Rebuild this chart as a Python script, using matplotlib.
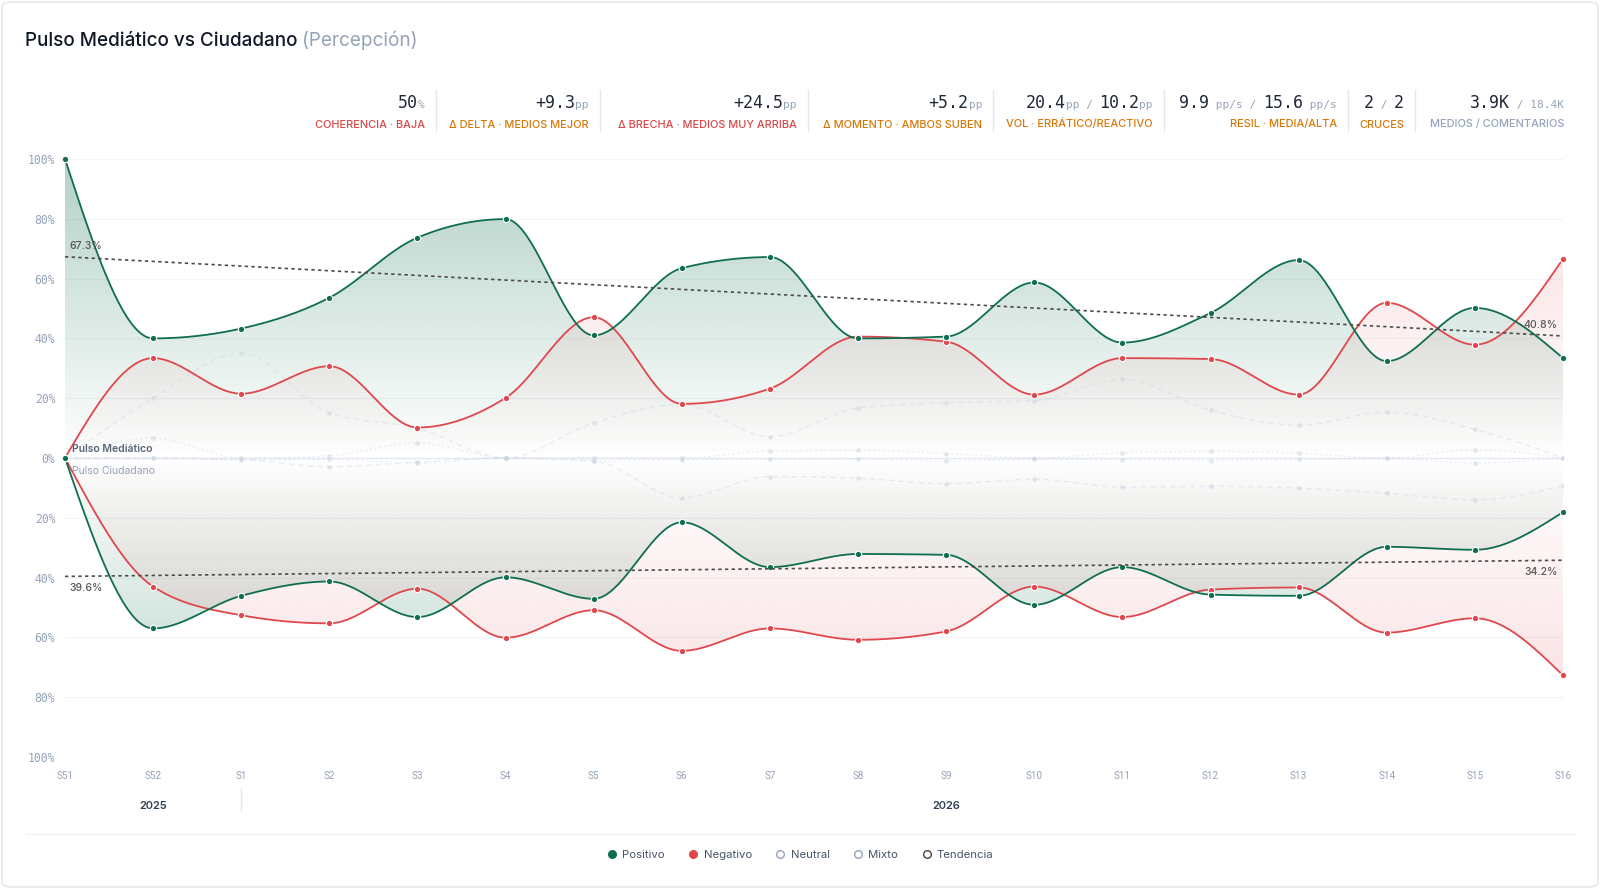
import numpy as np
import matplotlib
matplotlib.use("Agg")
import matplotlib.pyplot as plt
from matplotlib.lines import Line2D
from matplotlib.path import Path
from matplotlib.patches import FancyBboxPatch
import matplotlib.colors as mcolors
import matplotlib.transforms as mtransforms

# --- datos ---
weeks = ["S51", "S52", "S1", "S2", "S3", "S4", "S5", "S6", "S7", "S8",
         "S9", "S10", "S11", "S12", "S13", "S14", "S15", "S16"]

# Pulso Mediático (arriba)
med_pos = [100, 40, 43.3, 53.6, 73.7, 79.9, 41, 63.5, 67.2, 40, 40.6, 58.7, 38.6, 48.5, 66.2, 32.4, 50.2, 33.4]
med_neg = [0, 33.4, 21.5, 30.7, 10.2, 20.1, 47.1, 18.1, 23.2, 40.6, 38.9, 21.2, 33.4, 33.1, 21.2, 51.9, 37.9, 66.6]
med_neu = [0, 20, 35, 15, 10, 0, 11.7, 18, 7.1, 16.7, 18.5, 19.2, 26.3, 16, 10.9, 15.3, 9.6, 0]
med_mix = [0, 6.7, 0, 0.7, 5.1, 0, 0, 0, 2.3, 2.6, 1.5, 0, 1.7, 2.2, 1.6, 0, 2.8, 0]

# Pulso Ciudadano (abajo)
ciu_pos = [0, 57, 46.1, 41.3, 53.2, 39.9, 47.1, 21.5, 36.5, 32.1, 32.4, 49.1, 36.5, 45.7, 46.1, 29.7, 30.7, 18.1]
ciu_neg = [0, 43, 52.6, 55.3, 43.7, 60.1, 50.9, 64.5, 57, 60.8, 58, 43, 53.2, 44, 43.3, 58.4, 53.6, 72.7]
ciu_neu = [0, 0, 0.5, 2.9, 1.4, 0, 1, 13.4, 6.2, 6.8, 8.6, 7.1, 9.7, 9.4, 10.1, 11.8, 14, 9.3]
ciu_mix = [0, 0, 0.8, 0.5, 1.7, 0, 1, 0.6, 0.5, 0.3, 1, 0.5, 0.6, 0.9, 0.5, 0.1, 1.7, 0]

trend_med = [67.3, 40.8]
trend_ciu = [39.6, 34.2]

year_labels = ["2025", "2026"]
year_label_weeks = ["S52", "S9"]
year_break_week = "S1"

GREEN = "#0f6e4f"
RED = "#e0474c"
FAINT = "#cbd5e1"
GRAY = "#94a3b8"
TREND = "#4b4b4b"
ORANGE = "#d97706"
RED_LBL = "#dc4848"

SANS = ["Inter", "DejaVu Sans"]
MONO = ["DejaVu Sans Mono"]


def monotone(xs, ys, n=40):
    # curva monotona tipo d3.curveMonotoneX
    x = np.asarray(xs, float)
    y = np.asarray(ys, float)
    h = np.diff(x)
    s = np.diff(y) / h
    m = np.zeros_like(y)
    for i in range(1, len(y) - 1):
        h0, h1 = h[i - 1], h[i]
        s0, s1 = s[i - 1], s[i]
        p = (s0 * h1 + s1 * h0) / (h0 + h1)
        m[i] = (np.sign(s0) + np.sign(s1)) * min(abs(s0), abs(s1), 0.5 * abs(p))
    m[0] = (3 * s[0] - m[1]) / 2
    m[-1] = (3 * s[-1] - m[-2]) / 2
    xo, yo = [], []
    for i in range(len(y) - 1):
        t = np.linspace(0, 1, n, endpoint=(i == len(y) - 2))
        h00 = 2 * t**3 - 3 * t**2 + 1
        h10 = t**3 - 2 * t**2 + t
        h01 = -2 * t**3 + 3 * t**2
        h11 = t**3 - t**2
        xo.append(x[i] + t * h[i])
        yo.append(h00 * y[i] + h10 * h[i] * m[i] + h01 * y[i + 1] + h11 * h[i] * m[i + 1])
    return np.concatenate(xo), np.concatenate(yo)


def grad_fill(ax, xs, ys, color, amax):
    poly = ax.fill_between(xs, 0, ys, facecolor="none", edgecolor="none")
    path = Path.make_compound_path(*poly.get_paths())
    poly.remove()
    nrow = 400
    yy = np.linspace(-100, 100, nrow)
    img = np.zeros((nrow, 2, 4))
    img[..., :3] = mcolors.to_rgb(color)
    img[..., 3] = (amax * np.abs(yy) / 100)[:, None]
    im = ax.imshow(img, extent=[0, len(weeks) - 1, -100, 100], origin="lower",
                   aspect="auto", zorder=1, interpolation="bilinear")
    im.set_clip_path(path, transform=ax.transData)


fig = plt.figure(figsize=(16, 8.89), dpi=100)
W, H = 1600, 889


def fx(x):
    return x / W


def fy(y):
    return 1 - y / H


# tarjeta
fig.patches.append(FancyBboxPatch((fx(2), fy(887)), fx(1596), 885 / H,
                                  boxstyle="round,pad=0,rounding_size=0.006",
                                  transform=fig.transFigure, fc="white", ec="#e5e7eb", lw=1.2, zorder=-5))

ax = fig.add_axes([fx(65), fy(757), (1563 - 65) / W, (757 - 159) / H])
ax.patch.set_alpha(0)
x = np.arange(len(weeks))

for v in range(-100, 101, 20):
    if v != 0:
        ax.axhline(v, color="#f1f5f9", lw=0.8, zorder=0)
ax.axhline(0, color="#e2e8f0", lw=1.0, zorder=2)

series = [(med_pos, med_neg, med_neu, med_mix, 1), (ciu_pos, ciu_neg, ciu_neu, ciu_mix, -1)]
for pos, neg, neu, mix, sgn in series:
    pos = sgn * np.array(pos)
    neg = sgn * np.array(neg)
    neu = sgn * np.array(neu)
    mix = sgn * np.array(mix)
    xs, yp = monotone(x, pos)
    _, yn = monotone(x, neg)
    _, yu = monotone(x, neu)
    _, ym = monotone(x, mix)
    grad_fill(ax, xs, yp, GREEN, 0.32)
    grad_fill(ax, xs, yn, RED, 0.2)
    ax.plot(xs, yu, color=FAINT, lw=1, ls=(0, (4, 3)), alpha=0.4, zorder=2)
    ax.plot(x, neu, "o", color=FAINT, ms=2.5, alpha=0.4, zorder=2)
    ax.plot(xs, ym, color=FAINT, lw=1, ls=(0, (1.5, 2)), alpha=0.4, zorder=2)
    ax.plot(x, mix, "o", color=FAINT, ms=2.5, alpha=0.4, zorder=2)
    ax.plot(xs, yn, color=RED, lw=1.3, zorder=4)
    ax.plot(xs, yp, color=GREEN, lw=1.3, zorder=5)
    ax.plot(x, neg, "o", mfc=RED, mec="white", mew=0.8, ms=4.6, zorder=6, clip_on=False)
    ax.plot(x, pos, "o", mfc=GREEN, mec="white", mew=0.8, ms=4.6, zorder=7, clip_on=False)

# tendencias
ax.plot([0, len(weeks) - 1], trend_med, color=TREND, lw=1.2, ls=(0, (2, 2)), zorder=8)
ax.plot([0, len(weeks) - 1], [-v for v in trend_ciu], color=TREND, lw=1.2, ls=(0, (2, 2)), zorder=8)
tk = dict(fontsize=7.5, color="#555555", family=SANS, weight="medium", zorder=9)
ax.annotate(f"{trend_med[0]}%", (0, trend_med[0]), xytext=(3, 4), textcoords="offset points", ha="left", va="bottom", **tk)
ax.annotate(f"{trend_med[1]}%", (len(weeks) - 1, trend_med[1]), xytext=(-4, 4), textcoords="offset points", ha="right", va="bottom", **tk)
ax.annotate(f"{trend_ciu[0]}%", (0, -trend_ciu[0]), xytext=(3, -5), textcoords="offset points", ha="left", va="top", **tk)
ax.annotate(f"{trend_ciu[1]}%", (len(weeks) - 1, -trend_ciu[1]), xytext=(-4, -5), textcoords="offset points", ha="right", va="top", **tk)

ax.annotate("Pulso Mediático", (0, 0), xytext=(5, 3), textcoords="offset points", ha="left", va="bottom",
            fontsize=7.5, color="#5b6478", family=SANS, weight="semibold", zorder=9)
ax.annotate("Pulso Ciudadano", (0, 0), xytext=(5, -5.5), textcoords="offset points", ha="left", va="top",
            fontsize=7.5, color=GRAY, family=SANS, zorder=9)

ax.set_xlim(0, len(weeks) - 1)
ax.set_ylim(-100, 100)
for sp in ax.spines.values():
    sp.set_visible(False)
ax.set_yticks(range(-100, 101, 20))
ax.set_yticklabels([f"{abs(v)}%" for v in range(-100, 101, 20)], family=MONO, fontsize=8.3, color=GRAY)
ax.set_xticks(x)
ax.set_xticklabels(weeks, family=["Roboto", "DejaVu Sans"], fontsize=7.2, color=GRAY)
ax.tick_params(axis="y", length=0, pad=7)
ax.tick_params(axis="x", length=0, pad=10)

# años
blend = mtransforms.blended_transform_factory(ax.transData, fig.transFigure)
for lab, wk in zip(year_labels, year_label_weeks):
    xi = weeks.index(wk)
    ax.text(xi, fy(806), lab, transform=blend, ha="center", va="center",
            fontsize=8, color="#334155", family=SANS, weight="semibold")
xb = weeks.index(year_break_week)
ax.plot([xb, xb], [fy(788), fy(811)], transform=blend, color="#e5e7eb", lw=1, clip_on=False)

# separador y leyenda
fig.add_artist(Line2D([fx(26), fx(1574)], [fy(834), fy(834)], color="#eef0f3", lw=1))
handles = [
    Line2D([], [], marker="o", ls="none", mfc=GREEN, mec=GREEN, ms=5.5),
    Line2D([], [], marker="o", ls="none", mfc=RED, mec=RED, ms=5.5),
    Line2D([], [], marker="o", ls="none", mfc="white", mec=GRAY, ms=5.5, mew=1),
    Line2D([], [], marker="o", ls="none", mfc="white", mec=GRAY, ms=5.5, mew=1),
    Line2D([], [], marker="o", ls="none", mfc="white", mec="#444444", ms=5.5, mew=1),
]
leg = fig.legend(handles, ["Positivo", "Negativo", "Neutral", "Mixto", "Tendencia"], loc="center",
                 bbox_to_anchor=(0.5, fy(855)), ncol=5, frameon=False, handletextpad=0.4,
                 columnspacing=2.0, handlelength=1.0, prop={"family": SANS, "size": 8.2})
for t in leg.get_texts():
    t.set_color("#475569")

# titulo y KPIs
renderer = fig.canvas.get_renderer()


def runs(xpos, y, items, align="right"):
    seq = list(reversed(items)) if align == "right" else items
    xc = xpos
    for txt, kw in seq:
        t = fig.text(fx(xc), fy(y), txt, ha=align, va="baseline", **kw)
        w = t.get_window_extent(renderer).width
        xc = xc - w if align == "right" else xc + w


runs(25, 46, [("Pulso Mediático vs Ciudadano ", dict(fontsize=13.6, color="#111827", family=SANS, weight="medium")),
              ("(Percepción)", dict(fontsize=13.6, color=GRAY, family=SANS))], align="left")

big = dict(fontsize=12, color="#1f2937", family=MONO, weight="medium")
unit = dict(fontsize=8, color=GRAY, family=MONO)
lbl = dict(fontsize=7.9, family=SANS, weight="medium")

kpis = [
    (425, [("50", big), ("%", unit)], "COHERENCIA · BAJA", RED_LBL),
    (589, [("+9.3", big), ("pp", unit)], "Δ DELTA · MEDIOS MEJOR", ORANGE),
    (797, [("+24.5", big), ("pp", unit)], "Δ BRECHA · MEDIOS MUY ARRIBA", RED_LBL),
    (982, [("+5.2", big), ("pp", unit)], "Δ MOMENTO · AMBOS SUBEN", ORANGE),
    (1153, [("20.4", big), ("pp / ", unit), ("10.2", big), ("pp", unit)], "VOL · ERRÁTICO/REACTIVO", ORANGE),
    (1337, [("9.9", big), (" pp/s / ", unit), ("15.6", big), (" pp/s", unit)], "RESIL · MEDIA/ALTA", ORANGE),
    (1404, [("2", big), (" / ", unit), ("2", big)], "CRUCES", ORANGE),
    (1564, [("3.9K", big), (" / 18.4K", unit)], "MEDIOS / COMENTARIOS", GRAY),
]
for xr, parts, label, col in kpis:
    runs(xr, 108, parts)
    fig.text(fx(xr), fy(127.5), label, ha="right", va="baseline", color=col, **lbl)

for sx in [436, 600, 808, 993, 1164, 1348, 1415]:
    fig.add_artist(Line2D([fx(sx), fx(sx)], [fy(90), fy(131)], color="#e5e7eb", lw=1))

fig.savefig("out.png", dpi=100, facecolor="white")
